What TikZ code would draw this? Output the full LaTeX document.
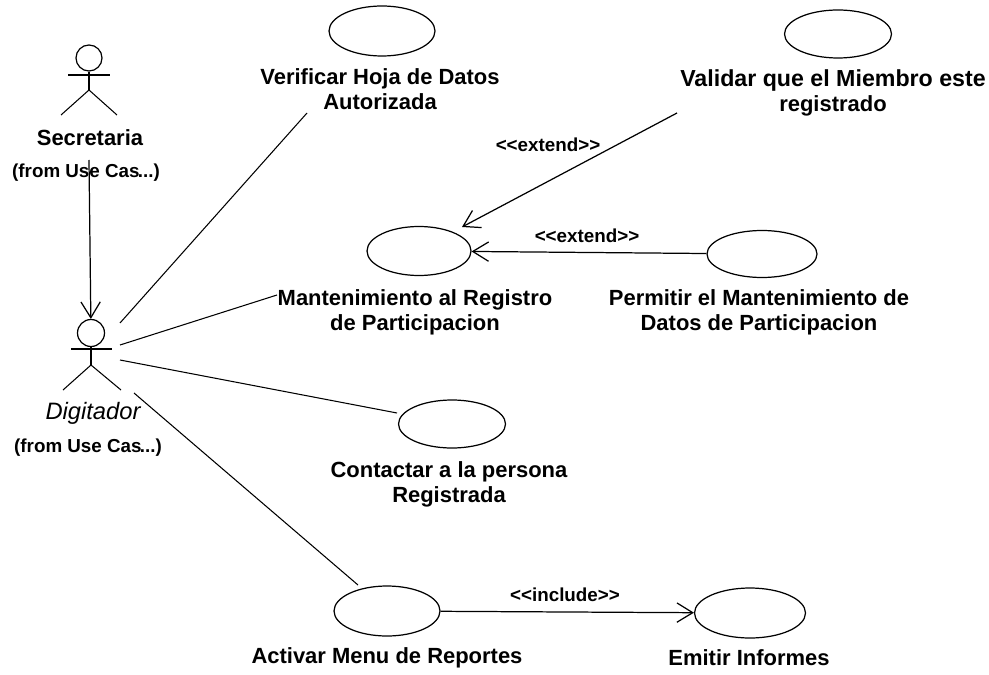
\documentclass[tikz,border=0pt]{standalone}
\usepackage{fontspec}
\setmainfont{Liberation Sans}
\usetikzlibrary{shapes.geometric,arrows.meta}
\tikzset{
  usecase/.style={ellipse, draw, line width=0.7pt, inner sep=0pt},
  actorhead/.style={circle, draw, line width=0.7pt, inner sep=0pt},
  lbl/.style={inner sep=0pt, align=center, font=\fontsize{12.5}{14.2}\selectfont\bfseries},
  small/.style={inner sep=0pt, font=\fontsize{10.7}{12}\selectfont\bfseries},
  open/.style={-{Straight Barb[length=9pt,width=11pt]}, line width=0.7pt},
  assoc/.style={line width=0.6pt}
}
\begin{document}
\begin{tikzpicture}[x=0.02cm,y=-0.02cm]
    \useasboundingbox (0,0) rectangle (989,675);

    % Use cases
    \node (verificar) [usecase, minimum width=2.12cm, minimum height=1cm] at (382,31) {};
    \node (validar) [usecase, minimum width=2.14cm, minimum height=0.96cm] at (838,34) {};
    \node (mantener) [usecase, minimum width=2.08cm, minimum height=0.98cm] at (419,251) {};
    \node (permitir) [usecase, minimum width=2.2cm, minimum height=0.94cm] at (762,254) {};
    \node (contactar) [usecase, minimum width=2.14cm, minimum height=0.96cm] at (452,424) {};
    \node (activar) [usecase, minimum width=2.12cm, minimum height=1cm] at (387,611) {};
    \node (emitir) [usecase, minimum width=2.22cm, minimum height=1cm] at (750,613) {};

    % Labels of the use cases
    \node (tverificar) [lbl] at (380,89) {Verificar Hoja de Datos\\Autorizada};
    \node (tvalidar) [lbl] at (833,93) {{\fontsize{13.2}{14.2}\selectfont Validar que el Miembro este}\\registrado};
    \node (tmantener) [lbl] at (415,312) {Mantenimiento al Registro\\de Participacion};
    \node (tpermitir) [lbl] at (759,312) {Permitir el Mantenimiento de\\Datos de Participacion};
    \node (tcontactar) [lbl] at (449,484) {Contactar a la persona\\Registrada};
    \node (tactivar) [lbl] at (387,658) {Activar Menu de Reportes};
    \node (temitir) [lbl] at (749,658) {Emitir Informes};

    % Actors
    \node (sechead) [actorhead, minimum size=0.52cm] at (89,58) {};
    \coordinate (secneck) at (89,90);
    \draw[assoc] (sechead) -- (secneck);
    \draw[assoc] (68,75) -- (110,75);
    \draw[assoc] (61,115) -- (secneck) -- (117,115);
    \node (tsecretaria) [lbl] at (90,138) {Secretaria};
    \node (fromsec) [small] at (86,173) {(from Use Cas\kern-1pt{}...)};

    \node (dighead) [actorhead, minimum size=0.54cm] at (91,333) {};
    \coordinate (digneck) at (91,365);
    \draw[assoc] (dighead) -- (digneck);
    \draw[assoc] (71,349) -- (112,349);
    \draw[assoc] (63,390) -- (digneck) -- (121,390);
    \node (tdigitador) [lbl, font=\fontsize{13.5}{14.2}\selectfont\itshape] at (93,413) {Digitador};
    \node (fromdig) [small] at (88,448) {(from Use Cas\kern-1pt{}...)};

    % Edges
    \coordinate (secfoot) at (89,160);
    \coordinate (digtop) at (120,323);
    \coordinate (digmid) at (120,345);
    \coordinate (diglow) at (120,360);
    \coordinate (digfoot) at (134,393);
    \coordinate (verend) at (307,113);
    \coordinate (manend) at (277,295);
    \coordinate (conend) at (397,413);
    \coordinate (actend) at (358,585);
    \coordinate (valend) at (677,113);
    \coordinate (mantip) at (462,227);

    \draw[open] (secfoot) -- (dighead);
    \draw[assoc] (digtop) -- (verend);
    \draw[assoc] (digmid) -- (manend);
    \draw[assoc] (diglow) -- (conend);
    \draw[assoc] (digfoot) -- (actend);
    \draw[open] (valend) -- (mantip);
    \draw[open] (permitir) -- (mantener);
    \draw[open] (activar) -- (emitir);

    % Stereotypes
    \node (extendone) [small] at (548,145) {<{}<extend>{}>};
    \node (extendtwo) [small] at (587,236) {<{}<extend>{}>};
    \node (includeone) [small] at (565,595) {<{}<include>{}>};
\end{tikzpicture}
\end{document}
